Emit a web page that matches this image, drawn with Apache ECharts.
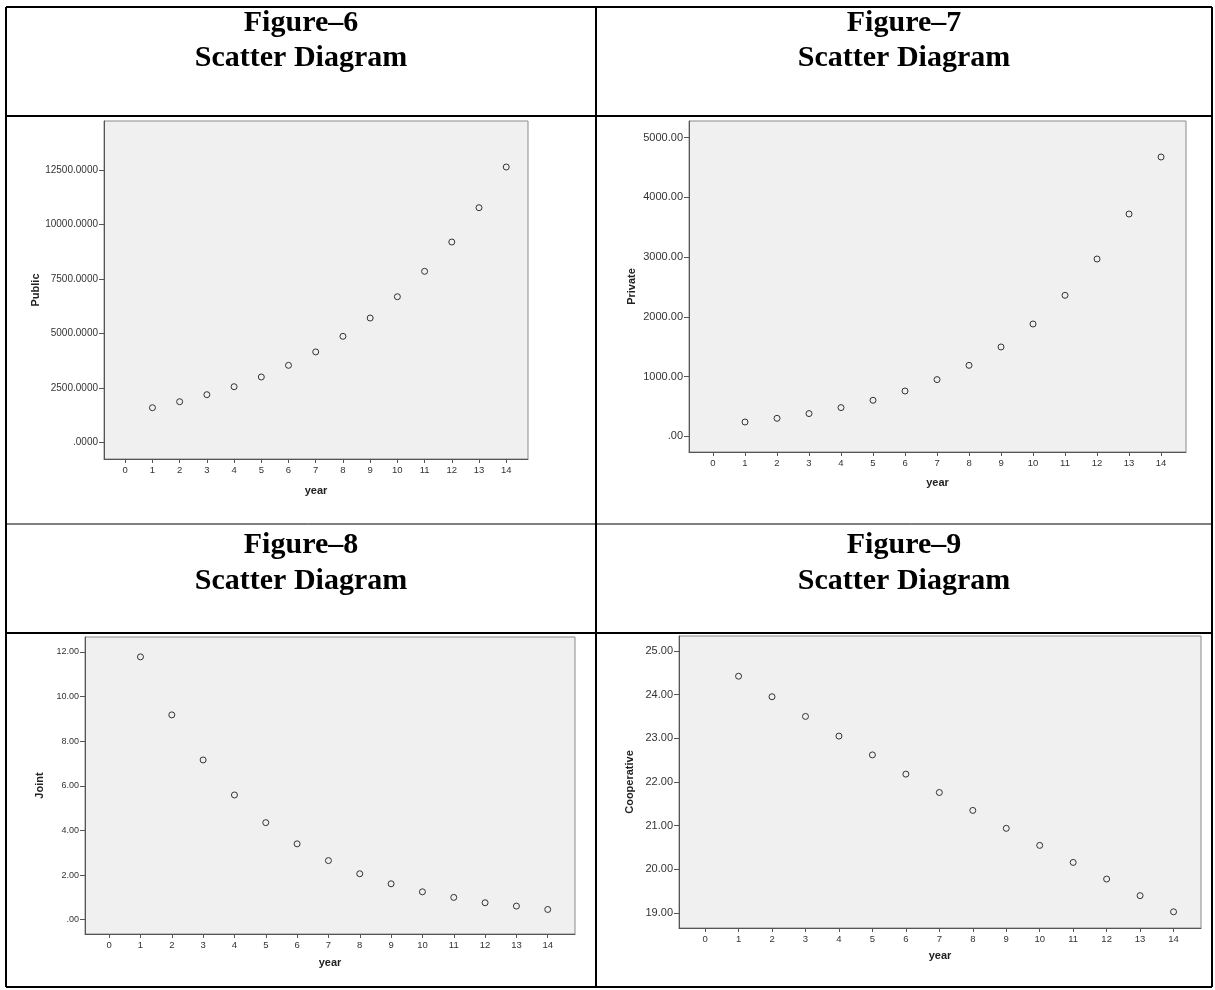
<!DOCTYPE html>
<html>
<head>
<meta charset="utf-8">
<script src="https://cdn.jsdelivr.net/npm/echarts@6/dist/echarts.min.js"></script>
<style>
html,body{margin:0;padding:0;background:#fff;}
#chart{width:1215px;height:990px;}
</style>
</head>
<body>
<div id="chart"></div>
<script>
// ---- data ----
const years = [1,2,3,4,5,6,7,8,9,10,11,12,13,14];
const xTicks = [0,1,2,3,4,5,6,7,8,9,10,11,12,13,14];
const publicVals = [1590,1866,2188,2555,3001,3538,4155,4871,5712,6691,7858,9205,10781,12652];
const privateVals = [239,301,380,480,603,758,949,1188,1495,1880,2360,2968,3721,4675];
const jointVals = [11.78,9.18,7.16,5.59,4.35,3.40,2.65,2.06,1.61,1.25,1.00,0.76,0.61,0.46];
const coopVals = [24.42,23.95,23.50,23.05,22.62,22.18,21.76,21.35,20.94,20.55,20.16,19.78,19.40,19.03];
const publicTicks = [0,2500,5000,7500,10000,12500];
const privateTicks = [0,1000,2000,3000,4000,5000];
const jointTicks = [0,2,4,6,8,10,12];
const coopTicks = [19,20,21,22,23,24,25];
const figureTitles = ['Figure\u20136','Figure\u20137','Figure\u20138','Figure\u20139'];
const subTitle = 'Scatter Diagram';
const yNames = ['Public','Private','Joint','Cooperative'];
const xName = 'year';

// ---- layout ----
const panels = [
  {grid:{left:104,top:121,width:424,height:338}, x:[-0.78,14.8], y:[-767,14766], vals:publicVals, ticks:publicTicks, dec:4, gap:60, xgap:26, fs:10},
  {grid:{left:689,top:121,width:497,height:331}, x:[-0.75,14.78], y:[-263,5278], vals:privateVals, ticks:privateTicks, dec:2, gap:52, xgap:25, fs:11},
  {grid:{left:85,top:637,width:490,height:297}, x:[-0.77,14.87], y:[-0.64,12.67], vals:jointVals, ticks:jointTicks, dec:2, gap:40, xgap:23, fs:9},
  {grid:{left:679,top:636,width:522,height:292}, x:[-0.78,14.82], y:[18.66,25.34], vals:coopVals, ticks:coopTicks, dec:2, gap:44, xgap:22, fs:11}
];

function fmt(dec){
  return function(v){
    let s = Number(v).toFixed(dec);
    if (s.startsWith('0.')) s = s.slice(1);
    return s;
  };
}

const labelColor = '#333';
const grids = [], xAxes = [], yAxes = [], series = [];
panels.forEach((p, i) => {
  grids.push(Object.assign({show:true, backgroundColor:'#f0f0f0', borderColor:'#8a8a8a', borderWidth:1}, p.grid));
  xAxes.push({
    type:'value', gridIndex:i, min:p.x[0], max:p.x[1],
    name:xName, nameLocation:'middle', nameGap:p.xgap,
    nameTextStyle:{fontFamily:'Arial, Liberation Sans', fontWeight:'bold', fontSize:11, color:'#222'},
    axisLine:{show:true, onZero:false, lineStyle:{color:'#555', width:1}},
    axisTick:{show:true, length:4, inside:false, customValues:xTicks, lineStyle:{color:'#555'}},
    axisLabel:{customValues:xTicks, margin:6, fontSize:9.5, fontFamily:'Arial, Liberation Sans', color:labelColor},
    splitLine:{show:false}
  });
  yAxes.push({
    type:'value', gridIndex:i, min:p.y[0], max:p.y[1],
    name:yNames[i], nameLocation:'middle', nameGap:p.gap, nameRotate:90,
    nameTextStyle:{fontFamily:'Arial, Liberation Sans', fontWeight:'bold', fontSize:11, color:'#222'},
    axisLine:{show:true, onZero:false, lineStyle:{color:'#555', width:1}},
    axisTick:{show:true, length:5, inside:false, customValues:p.ticks, lineStyle:{color:'#555'}},
    axisLabel:{customValues:p.ticks, margin:6, fontSize:p.fs, fontFamily:'Arial, Liberation Sans', color:labelColor, formatter:fmt(p.dec)},
    splitLine:{show:false}
  });
  series.push({
    type:'scatter', xAxisIndex:i, yAxisIndex:i,
    data: years.map((yr, k) => [yr, p.vals[k]]),
    symbol:'circle', symbolSize:6,
    itemStyle:{color:'#f0f0f0', borderColor:'#333', borderWidth:1, opacity:1},
    emphasis:{disabled:true}
  });
});

// ---- table lines and headers ----
const L = 6, R = 1212, T = 7, B = 987, MID = 596;
function hline(y, w){ return {type:'line', shape:{x1:L, y1:y, x2:R, y2:y}, style:{stroke:'#000', lineWidth:w}, z:100}; }
function vline(x, w){ return {type:'line', shape:{x1:x, y1:T, x2:x, y2:B}, style:{stroke:'#000', lineWidth:w}, z:100}; }
function txt(t, x, y){
  return {type:'text', x:x, y:y, style:{text:t, fill:'#000', font:'bold 30px "Liberation Serif", "Times New Roman", serif', align:'center', verticalAlign:'middle'}, z:100};
}
const graphics = [
  hline(T,2), hline(B,2), vline(L,2), vline(R,2), vline(MID,2),
  hline(116,2), hline(524,1), hline(633,2),
  txt(figureTitles[0], 301, 23), txt(subTitle, 301, 58),
  txt(figureTitles[1], 904, 23), txt(subTitle, 904, 58),
  txt(figureTitles[2], 301, 545), txt(subTitle, 301, 581),
  txt(figureTitles[3], 904, 545), txt(subTitle, 904, 581)
];

const chart = echarts.init(document.getElementById('chart'), null, {renderer:'canvas'});
chart.setOption({
  animation:false,
  backgroundColor:'#fff',
  grid:grids, xAxis:xAxes, yAxis:yAxes, series:series,
  graphic:graphics
});
</script>
</body>
</html>
